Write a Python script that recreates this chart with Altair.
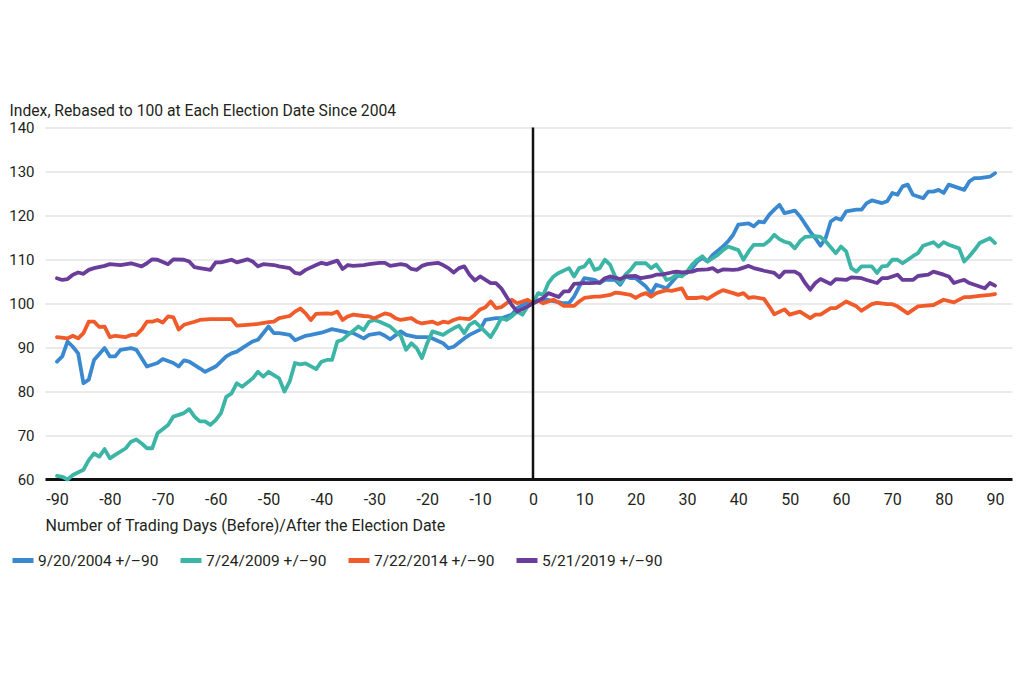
import altair as alt
import pandas as pd

FONT = "Roboto"

series_names = ["9/20/2004 +/–90", "7/24/2009 +/–90", "7/22/2014 +/–90", "5/21/2019 +/–90"]
series_colors = ["#3a89d0", "#3cb5a6", "#f15a29", "#6a3d9a"]

days_2004 = [-90, -89, -88, -87, -86, -85, -84, -83, -81, -80, -79, -78, -76, -75, -73, -71, -70, -68, -67, -66,
             -65, -63, -62, -60, -58, -57, -56, -55, -53, -52, -50, -49, -48, -46, -45, -43, -42, -40, -38, -36,
             -35, -34, -32, -31, -29, -28, -27, -25, -24, -22, -20, -19, -17, -16, -15, -13, -12, -10, -9, -7,
             -6, -4, -3, -2, -1, 0,
             2, 4, 6, 7, 8, 9, 10, 12, 13, 14, 16, 17, 18, 19, 20, 22, 23, 24, 25, 26, 28, 30, 31, 32,
             33, 34, 35, 37, 38, 39, 40, 42, 43, 44, 45, 46, 47, 48, 49, 51, 52, 54, 55, 56,
             57, 58, 59, 60, 61, 63, 64, 65, 66, 68, 69, 70, 71, 72, 73, 74, 76, 77, 78, 79,
             80, 81, 82, 84, 85, 86, 87, 89, 90]
vals_2004 = [86.7, 87.9, 91.3, 90.1, 88.6, 81.8, 82.6, 87.1, 89.8, 87.9, 87.9, 89.4, 89.8, 89.4, 85.6, 86.4, 87.3, 86.4, 85.6, 87.0,
             86.7, 85.2, 84.4, 85.6, 87.9, 88.6, 89.0, 89.8, 91.3, 91.7, 94.7, 93.2, 93.2, 92.8, 91.6, 92.6, 92.8, 93.3, 94.1, 93.6,
             93.3, 93.2, 92.0, 92.8, 93.2, 92.6, 91.8, 93.6, 92.8, 92.3, 92.3, 92.0, 90.9, 89.8, 90.1, 92.0, 92.8, 94.0, 96.2, 96.6,
             96.6, 97.4, 98.9, 99.6, 100.2, 100.0,
             101.0, 100.5, 100.0, 100.0, 101.5, 103.8, 105.7, 105.3, 104.6, 105.3, 105.3, 104.2, 106.1, 105.7, 105.7, 103.8, 102.3, 104.2, 103.8, 103.4, 106.1, 106.9, 108.0, 109.5,
             110.3, 109.5, 111.0, 112.9, 114.1, 115.6, 117.9, 118.2, 117.5, 118.6, 118.4, 120.1, 121.3, 122.4, 120.5, 121.1, 119.8, 116.3, 114.8, 113.1,
             114.8, 118.6, 119.4, 119.0, 120.9, 121.3, 121.3, 122.8, 123.4, 122.8, 123.2, 125.1, 124.7, 126.6, 127.0, 124.7, 123.9, 125.4, 125.4, 125.8,
             125.1, 127.0, 126.6, 125.8, 127.7, 128.5, 128.5, 128.8, 129.6]

days_2009 = [-90, -89, -88, -87, -85, -84, -83, -82, -81, -80, -79, -77, -76, -75, -74, -73, -72, -71, -69, -68,
             -66, -65, -64, -63, -62, -61, -60, -59, -58, -57, -56, -55, -53, -52, -51, -50, -48, -47, -46, -45,
             -44, -43, -41, -40, -39, -38, -37, -36, -35, -33, -32, -31, -30, -29, -27, -26, -25, -24, -23, -22,
             -21, -20, -19, -18, -17, -16, -15, -14, -13, -12, -11, -10, -8, -7, -6, -5, -4, -3, -2, -1, 0,
             1, 2, 3, 4, 5, 7, 8, 9, 10, 11, 12, 13, 14, 15, 16, 17, 18, 19, 20, 22,
             23, 24, 25, 26, 27, 28, 29, 30, 31, 32, 33, 34, 36, 37, 38, 40, 41, 42, 43, 45,
             46, 47, 48, 49, 50, 51, 52, 53, 55, 56, 57, 59, 60, 61, 62, 63, 64, 66, 67, 68,
             69, 70, 71, 72, 74, 75, 76, 78, 79, 80, 81, 83, 84, 85, 86, 87, 89, 90]
vals_2009 = [60.7, 60.5, 59.9, 60.9, 62.1, 64.3, 65.8, 65.1, 66.8, 64.7, 65.5, 67.0, 68.5, 69.0, 68.1, 67.0, 67.0, 70.4, 72.3, 74.2,
             75.0, 75.9, 74.2, 73.1, 73.1, 72.3, 73.4, 75.0, 78.7, 79.5, 81.8, 81.0, 82.9, 84.4, 83.3, 84.4, 82.9, 79.9, 82.2, 86.4,
             86.1, 86.3, 85.0, 86.7, 87.1, 87.1, 91.3, 91.7, 92.8, 94.7, 93.9, 95.8, 96.2, 95.8, 94.7, 93.6, 92.6, 89.4, 90.9, 89.8,
             87.5, 90.9, 93.6, 93.2, 92.8, 93.6, 94.3, 94.9, 93.2, 95.1, 95.8, 94.7, 92.3, 94.3, 96.6, 96.2, 97.0, 98.1, 97.4, 99.3, 100.0,
             102.3, 101.9, 104.6, 106.1, 106.9, 108.0, 106.1, 108.0, 108.4, 109.9, 107.6, 108.0, 109.9, 108.8, 106.1, 104.6, 106.5, 107.6, 109.1, 109.1,
             108.0, 108.8, 107.2, 105.3, 105.7, 106.5, 106.1, 107.2, 108.8, 109.9, 110.7, 109.5, 111.0, 112.1, 112.9, 112.1, 109.9, 111.8, 113.3, 113.3,
             114.2, 115.6, 114.6, 114.0, 113.7, 112.5, 114.1, 115.1, 115.3, 115.1, 114.1, 111.4, 112.9, 111.8, 108.0, 107.2, 108.4, 108.4, 106.9, 108.4,
             108.5, 109.9, 109.9, 109.1, 110.7, 111.4, 113.1, 113.9, 112.9, 113.9, 113.3, 112.5, 109.5, 110.7, 112.1, 113.7, 114.8, 113.7]

days_2014 = [-90, -88, -87, -86, -85, -84, -83, -82, -81, -80, -79, -77, -76, -75, -74, -73, -72, -71, -70, -69,
             -68, -67, -66, -64, -63, -61, -59, -57, -56, -54, -52, -50, -49, -48, -46, -45, -44, -43, -42, -41,
             -39, -38, -37, -36, -35, -34, -32, -31, -30, -28, -27, -26, -25, -23, -22, -21, -19, -18, -17, -16,
             -15, -14, -12, -11, -10, -9, -8, -7, -6, -5, -4, -3, -1, 0,
             1, 2, 4, 6, 8, 9, 10, 12, 13, 15, 16, 17, 19, 20, 21, 22, 23, 24, 26, 27,
             29, 30, 32, 33, 34, 36, 37, 39, 40, 41, 42, 43, 45, 46, 47, 49, 50, 52, 54, 55,
             56, 58, 59, 61, 63, 64, 66, 67, 69, 70, 71, 73, 75, 76, 78, 80, 82, 84, 85, 87,
             89, 90]
vals_2014 = [92.3, 92.0, 92.6, 92.0, 93.2, 95.8, 95.8, 94.6, 94.7, 92.3, 92.6, 92.3, 92.8, 92.8, 94.0, 95.8, 95.8, 96.2, 95.6, 97.0,
             96.8, 94.0, 95.1, 95.8, 96.2, 96.4, 96.4, 96.4, 94.9, 95.1, 95.3, 95.7, 95.8, 96.6, 97.1, 98.1, 98.8, 97.7, 96.2, 97.6,
             97.7, 97.6, 98.1, 96.2, 97.0, 97.4, 97.1, 97.0, 96.6, 97.7, 97.4, 96.6, 96.2, 96.6, 95.8, 95.4, 95.8, 95.3, 95.8, 95.6,
             96.2, 96.6, 96.4, 97.4, 98.6, 99.1, 100.4, 98.9, 99.1, 100.0, 100.8, 100.0, 100.8, 100.0,
             100.6, 100.0, 100.8, 99.4, 99.4, 100.4, 101.2, 101.5, 101.5, 101.9, 102.4, 102.3, 101.9, 101.2, 101.9, 102.3, 101.5, 102.3, 103.0, 102.8,
             103.4, 101.2, 101.2, 101.4, 101.0, 102.4, 103.0, 102.3, 101.9, 102.3, 101.2, 101.4, 101.0, 99.3, 97.5, 98.6, 97.4, 98.1, 96.6, 97.4,
             97.4, 98.9, 98.9, 100.4, 99.3, 98.3, 99.8, 100.1, 99.8, 99.8, 99.3, 97.7, 99.3, 99.4, 99.6, 100.8, 100.2, 101.4, 101.4, 101.7,
             101.9, 102.1]

days_2019 = [-90, -89, -88, -87, -86, -85, -84, -83, -81, -80, -78, -76, -74, -73, -72, -71, -69, -68, -66, -65,
             -64, -63, -61, -60, -59, -57, -56, -54, -53, -52, -51, -49, -48, -46, -45, -44, -43, -41, -40, -39,
             -37, -36, -35, -34, -32, -31, -29, -28, -27, -25, -24, -23, -22, -21, -20, -18, -17, -16, -15, -14,
             -13, -12, -11, -10, -8, -7, -6, -5, -4, -3, -1, 0,
             2, 3, 5, 6, 7, 8, 10, 11, 13, 14, 15, 17, 18, 20, 21, 23, 24, 25, 27, 28,
             29, 31, 32, 34, 35, 36, 37, 39, 40, 42, 43, 44, 45, 47, 48, 49, 51, 52, 53, 54,
             55, 56, 58, 59, 61, 62, 64, 65, 67, 68, 69, 71, 72, 74, 75, 77, 78, 80, 81, 82,
             83, 84, 85, 86, 88, 89, 90]
vals_2019 = [105.7, 105.3, 105.5, 106.5, 107.0, 106.7, 107.6, 108.0, 108.5, 108.9, 108.7, 109.1, 108.4, 109.1, 110.0, 109.9, 108.9, 110.0, 109.9, 109.5,
             108.2, 108.0, 107.6, 109.3, 109.3, 109.9, 109.3, 110.0, 109.5, 108.4, 108.9, 108.7, 108.4, 108.0, 106.9, 106.7, 107.6, 108.7, 109.2, 108.9,
             109.7, 107.8, 108.7, 108.5, 108.7, 108.9, 109.2, 109.2, 108.5, 108.9, 108.7, 107.8, 107.6, 108.5, 108.9, 109.2, 108.7, 108.0, 107.0, 108.0,
             108.4, 106.5, 105.2, 106.1, 104.6, 104.6, 103.4, 101.5, 99.6, 98.1, 99.3, 100.0,
             101.2, 102.3, 101.4, 102.7, 102.7, 104.4, 104.6, 104.6, 104.7, 105.7, 106.1, 105.5, 106.1, 106.2, 105.7, 106.1, 106.5, 106.5, 107.0, 107.2,
             107.0, 107.2, 107.6, 107.7, 108.0, 107.2, 107.7, 107.6, 107.7, 108.5, 108.0, 107.7, 107.4, 106.9, 105.9, 107.2, 107.2, 106.5, 104.6, 103.1,
             104.6, 105.5, 104.4, 105.5, 105.3, 105.9, 105.7, 105.3, 104.6, 105.7, 105.7, 106.5, 105.3, 105.3, 106.2, 106.5, 107.2, 106.5, 106.1, 104.6,
             105.0, 105.3, 104.6, 104.2, 103.4, 104.6, 104.0]

x_ticks = list(range(-90, 91, 10))
y_ticks = list(range(60, 141, 10))

all_days = [days_2004, days_2009, days_2014, days_2019]
all_vals = [vals_2004, vals_2009, vals_2014, vals_2019]
rows = []
for i, (name, ds, vs) in enumerate(zip(series_names, all_days, all_vals)):
    assert len(ds) == len(vs), (name, len(ds), len(vs))
    for d, v in zip(ds, vs):
        rows.append({"day": d, "value": v, "series": name, "order": i})
df = pd.DataFrame(rows)

PLOT_W = 967
PLOT_H = 351.5

# the source axis is drawn slightly wider before the election date than after it
x_scale = alt.Scale(domain=[-92.27, 0, 93.31], range=[0, 488, PLOT_W], nice=False, zero=False)

x_enc = alt.X(
    "day:Q",
    scale=x_scale,
    axis=alt.Axis(
        values=x_ticks, labelExpr="'' + datum.value", grid=False, ticks=False,
        domain=True, domainColor="#111111", domainWidth=3,
        labelPadding=12, labelFontSize=16, labelFont=FONT, labelColor="#231f20",
        title="Number of Trading Days (Before)/After the Election Date",
        titleFont=FONT, titleFontSize=16, titleFontWeight="normal", titleColor="#231f20",
        titleAnchor="start", titleAlign="left", titleBaseline="alphabetic", titleX=0, titleY=51,
    ),
)
y_enc = alt.Y(
    "value:Q",
    scale=alt.Scale(domain=[60, 140], nice=False, zero=False),
    axis=alt.Axis(
        values=y_ticks, labelExpr="'' + datum.value", grid=True, gridColor="#e3e3e3", gridWidth=1.3,
        ticks=False, domain=False, labelPadding=11, labelFontSize=15, labelFont=FONT, labelColor="#231f20",
        title="Index, Rebased to 100 at Each Election Date Since 2004",
        titleFont=FONT, titleFontSize=15.7, titleFontWeight="normal", titleColor="#231f20",
        titleAngle=0, titleAlign="left", titleBaseline="alphabetic", titleX=-36, titleY=-12,
    ),
)

lines = alt.Chart(df).mark_line(strokeWidth=3.8, strokeJoin="round", strokeCap="round").encode(
    x=x_enc,
    y=y_enc,
    color=alt.Color(
        "series:N",
        scale=alt.Scale(domain=series_names, range=series_colors),
        sort=series_names,
        legend=alt.Legend(
            orient="none", legendX=-35, legendY=420, direction="horizontal", columns=4, title=None,
            symbolType="stroke", symbolStrokeWidth=5, symbolSize=440, labelFontSize=15.5, labelFont=FONT,
            labelColor="#231f20", labelOffset=2, columnPadding=11, padding=0, labelLimit=300,
        ),
    ),
    order="order:Q",
)

zero_rule = alt.Chart(pd.DataFrame({"day": [0]})).mark_rule(color="#111111", strokeWidth=2.5).encode(
    x=alt.X("day:Q", scale=x_scale)
)

chart = alt.layer(lines, zero_rule).properties(
    width=PLOT_W, height=PLOT_H,
    autosize=alt.AutoSizeParams(type="none"),
    padding={"left": 37, "top": 119.5, "right": 4, "bottom": 150},
    background="white",
).configure_view(stroke=None)

chart.save("out.html", embed_options={"renderer": "svg", "actions": False})
